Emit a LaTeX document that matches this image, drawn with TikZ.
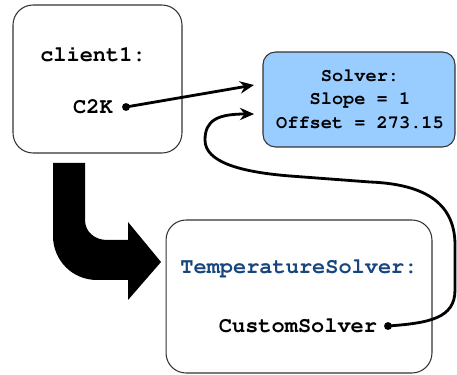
\documentclass[tikz,border=0pt]{standalone}
\usepackage[T1]{fontenc}
\renewcommand{\ttdefault}{pcr}
\usepackage{tikz}
\usetikzlibrary{arrows.meta, calc}

\definecolor{solverblue}{RGB}{153,204,255}
\definecolor{typeblue}{RGB}{22,70,125}

\begin{document}
\begin{tikzpicture}[x=0.02cm, y=-0.02cm,
  box/.style={draw=black!80, line width=0.6pt, rounded corners=0.4cm, inner sep=0pt},
  code/.style={font=\ttfamily\bfseries\fontsize{12.5}{15}\selectfont, inner sep=0pt},
  small/.style={font=\ttfamily\bfseries\fontsize{10.6}{13.3}\selectfont, align=center, inner sep=0pt},
  link/.style={line width=1.6pt, -{Stealth[length=8pt, width=7pt]}},
  pin/.style={circle, fill=black, inner sep=0pt, minimum size=4.5pt}]
  \useasboundingbox (0,0) rectangle (457,375);
  % big bent arrow
  \fill (53,163) -- (85,163) -- (85,220) .. controls (85,232) and (95,240) .. (107,240)
    -- (128,240) -- (128,222) -- (161,262) -- (128,300) -- (128,280) -- (97,280)
    .. controls (72,280) and (53,260) .. (53,236) -- cycle;
  % boxes
  \node[box, minimum width=3.38cm, minimum height=2.96cm] (client) at (97.5,79) {};
  \node[box, fill=solverblue, rounded corners=0.25cm, minimum width=3.84cm, minimum height=1.9cm] (solver) at (359,99.5) {};
  \node[box, minimum width=5.32cm, minimum height=3.06cm] (temp) at (299,296.5) {};
  % texts
  \node[code] (clientname) at (93,54) {client1:};
  \node[code] (c2k) at (93,107) {C2K};
  \node[small] (solvertext) at (360,99) {Solver:\\Slope = 1\\Offset = 273.15};
  \node[code, text=typeblue] (tempname) at (299,268) {TemperatureSolver:};
  \node[code] (custom) at (298,326) {CustomSolver};
  % pointers
  \node[pin] (c2kdot) at (126,107) {};
  \node[pin] (customdot) at (388,326) {};
  \coordinate (intop) at (254,85);
  \coordinate (inbot) at (254,114);
  \draw[link] (c2kdot.center) -- (intop);
  \draw[link] (customdot.center) .. controls (430,323) and (455,318) .. (455,290)
    -- (455,245) .. controls (455,200) and (420,184) .. (370,182)
    -- (290,176) .. controls (240,172) and (205,162) .. (205,140)
    .. controls (205,120) and (218,114) .. (inbot);
\end{tikzpicture}
\end{document}
